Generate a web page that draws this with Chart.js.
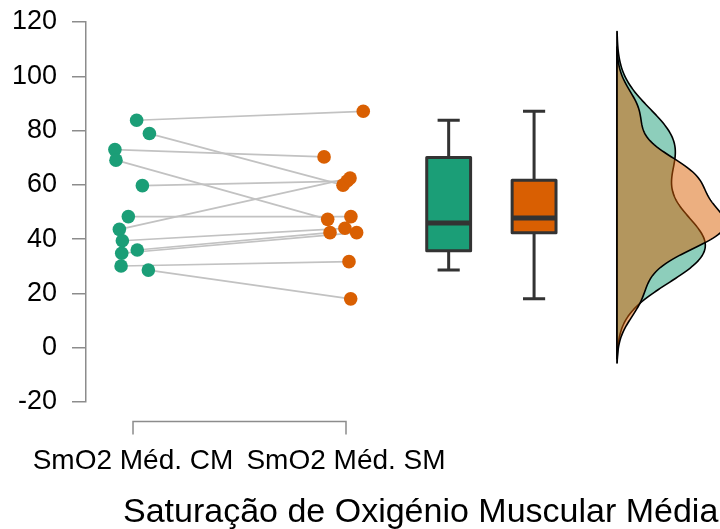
<!DOCTYPE html>
<html>
<head>
<meta charset="utf-8">
<script src="https://cdn.jsdelivr.net/npm/chart.js@4/dist/chart.umd.min.js"></script>
<style>
  html, body { margin: 0; padding: 0; background: #ffffff; }
  #wrap { width: 720px; height: 529px; }
</style>
</head>
<body>
<div id="wrap"><canvas id="chart" width="720" height="529"></canvas></div>
<script>
// Paired muscle oxygen saturation readings (SmO2, %), one entry per participant
const categories = ['SmO2 Méd. CM', 'SmO2 Méd. SM'];
const smo2CM = [83.8, 78.9, 73.0, 69.1, 59.7, 48.3, 43.6, 39.4, 36.0, 34.8, 30.1, 28.6];
const smo2SM = [87.1, 59.9, 70.3, 47.3, 61.4, 48.3, 62.5, 44.0, 42.4, 42.4, 31.7, 18.0];
// horizontal jitter of each point around its category (category units)
const jitterCM = [0.017, 0.077, -0.085, -0.080, 0.044, -0.022, -0.064, -0.050, 0.020, -0.053, -0.056, 0.072];
const jitterSM = [0.081, -0.014, -0.103, -0.086, 0.005, 0.023, 0.019, -0.005, -0.075, 0.050, 0.014, 0.022];
const yTicks = [-20, 0, 20, 40, 60, 80, 100, 120];
const axisTitle = 'Saturação de Oxigénio Muscular Média';

const COLORS = ['#1b9e77', '#d95f02'];
const FILLS = ['rgba(27,158,119,0.5)', 'rgba(217,95,2,0.5)'];
const FONT = '"Liberation Sans", Arial, Helvetica, sans-serif';

// layout in x-scale units: points at 1 and 2, boxes and half-densities to the right
const BOX_CENTERS = [2.482, 2.883];
const BOX_HALF = 0.103;
const CAP_HALF = 0.052;
const DENSITY_BASE = 3.272;
const DENSITY_SCALE = 22.4; // x units per density unit

// ---- statistics ----
function quantile7(arr, p) {
  const s = [...arr].sort((a, b) => a - b);
  const h = (s.length - 1) * p;
  const lo = Math.floor(h);
  const hi = Math.min(lo + 1, s.length - 1);
  return s[lo] + (h - lo) * (s[hi] - s[lo]);
}
function sd(arr) {
  const m = arr.reduce((a, b) => a + b, 0) / arr.length;
  return Math.sqrt(arr.reduce((a, b) => a + (b - m) * (b - m), 0) / (arr.length - 1));
}
function bwNrd0(arr) {
  const iqr = quantile7(arr, 0.75) - quantile7(arr, 0.25);
  return 0.9 * Math.min(sd(arr), iqr / 1.34) * Math.pow(arr.length, -0.2);
}
function kde(arr) {
  const bw = bwNrd0(arr);
  const lo = Math.min(...arr) - 3 * bw;
  const hi = Math.max(...arr) + 3 * bw;
  const n = 256, out = [];
  for (let i = 0; i <= n; i++) {
    const v = lo + (hi - lo) * i / n;
    let d = 0;
    for (const xi of arr) {
      const z = (v - xi) / bw;
      d += Math.exp(-0.5 * z * z);
    }
    out.push({ v, d: d / (arr.length * bw * Math.sqrt(2 * Math.PI)) });
  }
  return out;
}
function boxStats(arr) {
  const q1 = quantile7(arr, 0.25), q3 = quantile7(arr, 0.75), med = quantile7(arr, 0.5);
  const iqr = q3 - q1;
  const inside = arr.filter(v => v >= q1 - 1.5 * iqr && v <= q3 + 1.5 * iqr);
  return { q1, q3, med, lo: Math.min(...inside), hi: Math.max(...inside) };
}

const series = [smo2CM, smo2SM];
const jitters = [jitterCM, jitterSM];

// ---- datasets: pair lines, then points ----
const datasets = [];
smo2CM.forEach((v, i) => {
  datasets.push({
    type: 'line',
    data: [{ x: 1 + jitterCM[i], y: v }, { x: 2 + jitterSM[i], y: smo2SM[i] }],
    borderColor: '#c2c2c2',
    borderWidth: 1.7,
    pointRadius: 0,
    fill: false,
    order: 3
  });
});
series.forEach((vals, k) => {
  datasets.push({
    type: 'scatter',
    label: categories[k],
    data: vals.map((v, i) => ({ x: k + 1 + jitters[k][i], y: v })),
    backgroundColor: COLORS[k],
    borderWidth: 0,
    pointRadius: 6.8,
    order: 1
  });
});

const rainPlugin = {
  id: 'raincloud',
  afterDatasetsDraw(chart) {
    const { ctx, scales: { x, y } } = chart;
    ctx.save();
    // half densities
    series.forEach((vals, k) => {
      const dens = kde(vals);
      const bx = x.getPixelForValue(DENSITY_BASE);
      ctx.beginPath();
      ctx.moveTo(bx, y.getPixelForValue(dens[0].v));
      dens.forEach(p => ctx.lineTo(x.getPixelForValue(DENSITY_BASE + p.d * DENSITY_SCALE), y.getPixelForValue(p.v)));
      ctx.lineTo(bx, y.getPixelForValue(dens[dens.length - 1].v));
      ctx.closePath();
      ctx.fillStyle = FILLS[k];
      ctx.fill();
      ctx.lineWidth = 1.6;
      ctx.strokeStyle = '#000';
      ctx.lineJoin = 'round';
      ctx.stroke();
    });
    // boxplots
    series.forEach((vals, k) => {
      const s = boxStats(vals);
      const c = BOX_CENTERS[k];
      const xl = x.getPixelForValue(c - BOX_HALF), xr = x.getPixelForValue(c + BOX_HALF);
      const xc = x.getPixelForValue(c);
      const cl = x.getPixelForValue(c - CAP_HALF), cr = x.getPixelForValue(c + CAP_HALF);
      ctx.strokeStyle = '#333333';
      ctx.lineWidth = 3;
      ctx.lineCap = 'butt';
      ctx.beginPath();
      ctx.moveTo(xc, y.getPixelForValue(s.hi)); ctx.lineTo(xc, y.getPixelForValue(s.lo));
      ctx.moveTo(cl, y.getPixelForValue(s.hi)); ctx.lineTo(cr, y.getPixelForValue(s.hi));
      ctx.moveTo(cl, y.getPixelForValue(s.lo)); ctx.lineTo(cr, y.getPixelForValue(s.lo));
      ctx.stroke();
      const yt = y.getPixelForValue(s.q3), yb = y.getPixelForValue(s.q1);
      ctx.fillStyle = COLORS[k];
      ctx.fillRect(xl, yt, xr - xl, yb - yt);
      ctx.lineJoin = 'round';
      ctx.strokeRect(xl, yt, xr - xl, yb - yt);
      ctx.lineWidth = 5;
      ctx.beginPath();
      ctx.moveTo(xl, y.getPixelForValue(s.med)); ctx.lineTo(xr, y.getPixelForValue(s.med));
      ctx.stroke();
    });
    ctx.restore();
  },
  afterDraw(chart) {
    const { ctx, scales: { x }, chartArea } = chart;
    ctx.save();
    // category bracket and labels
    const x1 = x.getPixelForValue(1), x2 = x.getPixelForValue(2);
    const by = chartArea.bottom + 19.5;
    ctx.strokeStyle = '#8c8c8c';
    ctx.lineWidth = 1.5;
    ctx.beginPath();
    ctx.moveTo(x1, by + 13); ctx.lineTo(x1, by); ctx.lineTo(x2, by); ctx.lineTo(x2, by + 13);
    ctx.stroke();
    ctx.fillStyle = '#000';
    ctx.font = '28px ' + FONT;
    ctx.textAlign = 'center';
    ctx.textBaseline = 'alphabetic';
    ctx.fillText(categories[0], x1, 469);
    ctx.fillText(categories[1], x2, 469);
    // axis title
    ctx.font = '34px ' + FONT;
    ctx.textAlign = 'left';
    ctx.fillText(axisTitle, 123, 522);
    ctx.restore();
  }
};

new Chart(document.getElementById('chart'), {
  type: 'scatter',
  data: { datasets },
  options: {
    responsive: false,
    animation: false,
    devicePixelRatio: 1,
    layout: { autoPadding: false, padding: { top: 22, bottom: 127, left: 0, right: 0 } },
    plugins: { legend: { display: false }, tooltip: { enabled: false } },
    scales: {
      x: { type: 'linear', min: 0.7793, max: 3.7559, display: false },
      y: {
        type: 'linear',
        min: -20, max: 120,
        afterBuildTicks: s => { s.ticks = yTicks.map(v => ({ value: v })); },
        afterFit: s => { s.width = 86; s.paddingTop = 0; s.paddingBottom = 0; },
        ticks: { color: '#000', font: { family: FONT, size: 27 }, padding: 15 },
        grid: { drawOnChartArea: false, drawTicks: true, tickLength: 14, color: '#8c8c8c', lineWidth: 1.5 },
        border: { color: '#8c8c8c', width: 1.5 }
      }
    }
  },
  plugins: [rainPlugin]
});
</script>
</body>
</html>
